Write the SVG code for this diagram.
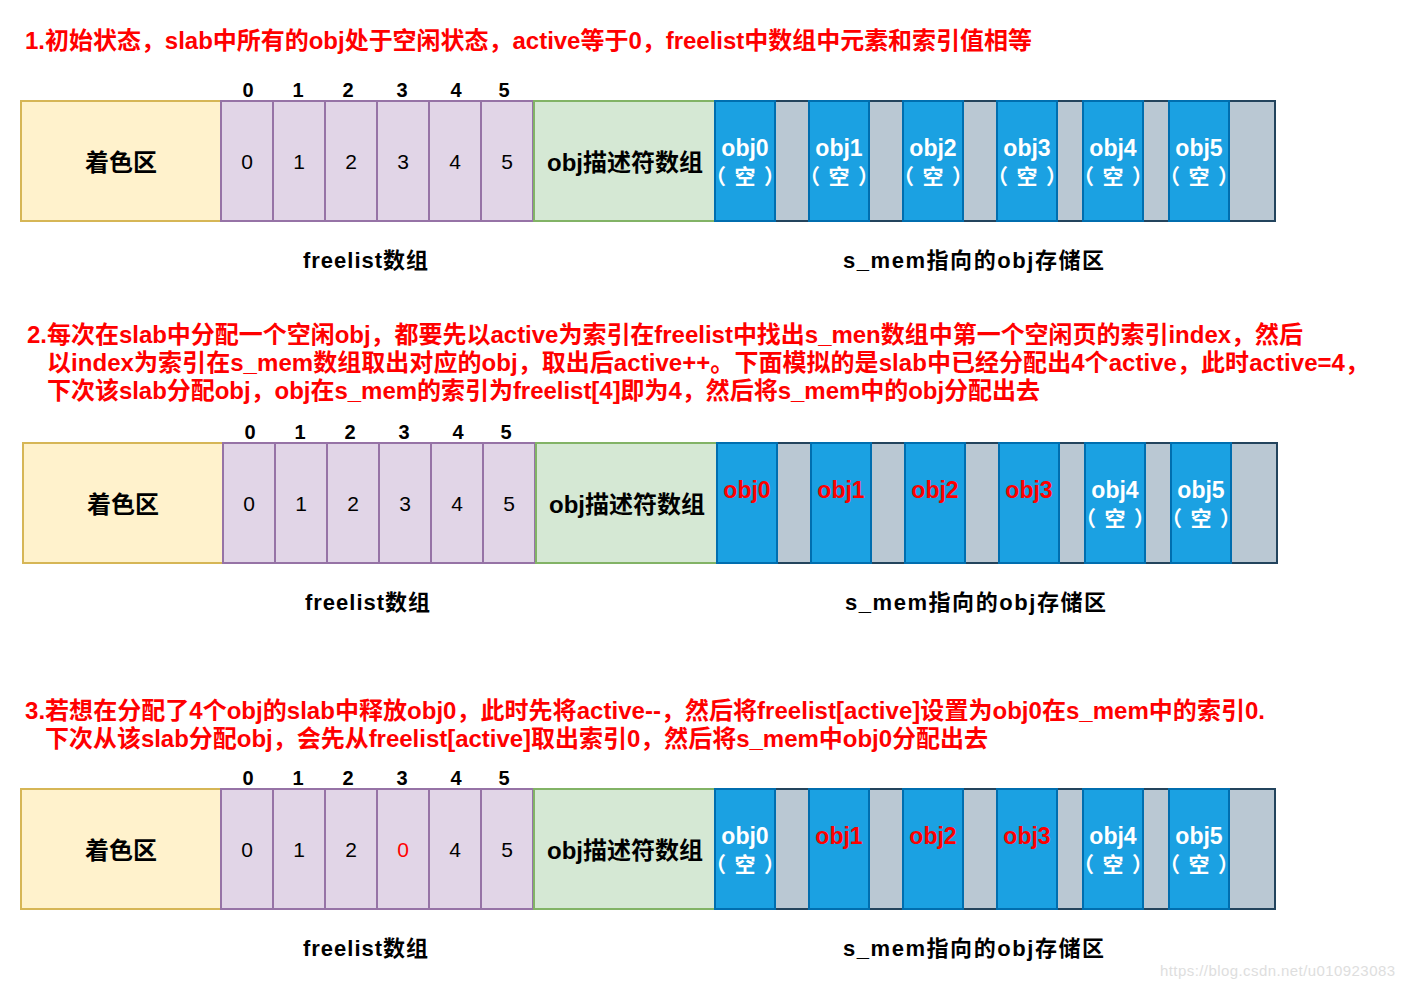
<svg xmlns="http://www.w3.org/2000/svg" width="1404" height="990" viewBox="0 0 1404 990">
<style>
text{font-family:'Liberation Sans','Noto Sans CJK SC',sans-serif}
.title{font-size:24px;font-weight:bold;fill:#ff0000}
.hdr{font-size:20px;font-weight:bold;fill:#000;text-anchor:middle}
.yel{fill:#fff2cc;stroke:#d6b656;stroke-width:2}
.pur{fill:#e1d5e7;stroke:#9673a6;stroke-width:2}
.grn{fill:#d5e8d4;stroke:#82b366;stroke-width:2}
.blu{fill:#1ba1e2;stroke:#006eaf;stroke-width:2}
.gry{fill:#bac8d3;stroke:#23445d;stroke-width:2}
.big{font-size:24px;font-weight:bold;fill:#000;text-anchor:middle}
.num{font-size:21px;fill:#000;text-anchor:middle}
.numr{font-size:21px;fill:#ff0000;text-anchor:middle}
.ob{font-size:23px;font-weight:bold;fill:#fff;text-anchor:middle}
.obr{font-size:23px;font-weight:bold;fill:#ff0000;text-anchor:middle}
.kong{font-size:21px;font-weight:bold;fill:#fff;text-anchor:middle}
.lbl{font-size:22px;font-weight:bold;fill:#000;text-anchor:middle}
</style>

<g id="titles">
<text class="title" x="25" y="49" textLength="1007">1.初始状态，slab中所有的obj处于空闲状态，active等于0，freelist中数组中元素和索引值相等</text>
<text class="title" x="27" y="343" textLength="1276">2.每次在slab中分配一个空闲obj，都要先以active为索引在freelist中找出s_men数组中第一个空闲页的索引index，然后</text>
<text class="title" x="47" y="371" textLength="1322">以index为索引在s_mem数组取出对应的obj，取出后active++。下面模拟的是slab中已经分配出4个active，此时active=4，</text>
<text class="title" x="47" y="399" textLength="993">下次该slab分配obj，obj在s_mem的索引为freelist[4]即为4，然后将s_mem中的obj分配出去</text>
<text class="title" x="25" y="719" textLength="1240">3.若想在分配了4个obj的slab中释放obj0，此时先将active--，然后将freelist[active]设置为obj0在s_mem中的索引0.</text>
<text class="title" x="45" y="747" textLength="943">下次从该slab分配obj，会先从freelist[active]取出索引0，然后将s_mem中obj0分配出去</text>
</g>

<!-- Panel 1 -->
<g id="panel1">
<g id="p1-index"><text class="hdr" x="248" y="97">0</text><text class="hdr" x="298" y="97">1</text><text class="hdr" x="348" y="97">2</text><text class="hdr" x="402" y="97">3</text><text class="hdr" x="456" y="97">4</text><text class="hdr" x="504" y="97">5</text></g>
<g id="p1-color"><rect class="yel" x="21" y="101" width="200" height="120"/><text class="big" x="121" y="171">着色区</text></g>
<g id="p1-freelist">
<rect class="pur" x="221" y="101" width="52" height="120"/><text class="num" x="247" y="169">0</text>
<rect class="pur" x="273" y="101" width="52" height="120"/><text class="num" x="299" y="169">1</text>
<rect class="pur" x="325" y="101" width="52" height="120"/><text class="num" x="351" y="169">2</text>
<rect class="pur" x="377" y="101" width="52" height="120"/><text class="num" x="403" y="169">3</text>
<rect class="pur" x="429" y="101" width="52" height="120"/><text class="num" x="455" y="169">4</text>
<rect class="pur" x="481" y="101" width="52" height="120"/><text class="num" x="507" y="169">5</text>
</g>
<g id="p1-desc"><rect class="grn" x="534" y="101" width="181" height="120"/><text class="big" x="625" y="171">obj描述符数组</text></g>
<g id="p1-mem">
<rect class="gry" x="715" y="101" width="560" height="120"/>
<rect class="blu" x="715" y="101" width="60" height="120"/><text class="ob" x="745" y="156">obj0</text><text class="kong" x="745" y="184" textLength="80">（空）</text>
<rect class="blu" x="809" y="101" width="60" height="120"/><text class="ob" x="839" y="156">obj1</text><text class="kong" x="839" y="184" textLength="80">（空）</text>
<rect class="blu" x="903" y="101" width="60" height="120"/><text class="ob" x="933" y="156">obj2</text><text class="kong" x="933" y="184" textLength="80">（空）</text>
<rect class="blu" x="997" y="101" width="60" height="120"/><text class="ob" x="1027" y="156">obj3</text><text class="kong" x="1027" y="184" textLength="80">（空）</text>
<rect class="blu" x="1083" y="101" width="60" height="120"/><text class="ob" x="1113" y="156">obj4</text><text class="kong" x="1113" y="184" textLength="80">（空）</text>
<rect class="blu" x="1169" y="101" width="60" height="120"/><text class="ob" x="1199" y="156">obj5</text><text class="kong" x="1199" y="184" textLength="80">（空）</text>
</g>
<g id="p1-labels"><text class="lbl" x="365.5" y="268" textLength="125">freelist数组</text><text class="lbl" x="973.5" y="268" textLength="261">s_mem指向的obj存储区</text></g>
</g>

<!-- Panel 2 -->
<g id="panel2" transform="translate(2,342)">
<g id="p2-index"><text class="hdr" x="248" y="97">0</text><text class="hdr" x="298" y="97">1</text><text class="hdr" x="348" y="97">2</text><text class="hdr" x="402" y="97">3</text><text class="hdr" x="456" y="97">4</text><text class="hdr" x="504" y="97">5</text></g>
<g id="p2-color"><rect class="yel" x="21" y="101" width="200" height="120"/><text class="big" x="121" y="171">着色区</text></g>
<g id="p2-freelist">
<rect class="pur" x="221" y="101" width="52" height="120"/><text class="num" x="247" y="169">0</text>
<rect class="pur" x="273" y="101" width="52" height="120"/><text class="num" x="299" y="169">1</text>
<rect class="pur" x="325" y="101" width="52" height="120"/><text class="num" x="351" y="169">2</text>
<rect class="pur" x="377" y="101" width="52" height="120"/><text class="num" x="403" y="169">3</text>
<rect class="pur" x="429" y="101" width="52" height="120"/><text class="num" x="455" y="169">4</text>
<rect class="pur" x="481" y="101" width="52" height="120"/><text class="num" x="507" y="169">5</text>
</g>
<g id="p2-desc"><rect class="grn" x="534" y="101" width="181" height="120"/><text class="big" x="625" y="171">obj描述符数组</text></g>
<g id="p2-mem">
<rect class="gry" x="715" y="101" width="560" height="120"/>
<rect class="blu" x="715" y="101" width="60" height="120"/><text class="obr" x="745" y="156">obj0</text>
<rect class="blu" x="809" y="101" width="60" height="120"/><text class="obr" x="839" y="156">obj1</text>
<rect class="blu" x="903" y="101" width="60" height="120"/><text class="obr" x="933" y="156">obj2</text>
<rect class="blu" x="997" y="101" width="60" height="120"/><text class="obr" x="1027" y="156">obj3</text>
<rect class="blu" x="1083" y="101" width="60" height="120"/><text class="ob" x="1113" y="156">obj4</text><text class="kong" x="1113" y="184" textLength="80">（空）</text>
<rect class="blu" x="1169" y="101" width="60" height="120"/><text class="ob" x="1199" y="156">obj5</text><text class="kong" x="1199" y="184" textLength="80">（空）</text>
</g>
<g id="p2-labels"><text class="lbl" x="365.5" y="268" textLength="125">freelist数组</text><text class="lbl" x="973.5" y="268" textLength="261">s_mem指向的obj存储区</text></g>
</g>

<!-- Panel 3 -->
<g id="panel3" transform="translate(0,688)">
<g id="p3-index"><text class="hdr" x="248" y="97">0</text><text class="hdr" x="298" y="97">1</text><text class="hdr" x="348" y="97">2</text><text class="hdr" x="402" y="97">3</text><text class="hdr" x="456" y="97">4</text><text class="hdr" x="504" y="97">5</text></g>
<g id="p3-color"><rect class="yel" x="21" y="101" width="200" height="120"/><text class="big" x="121" y="171">着色区</text></g>
<g id="p3-freelist">
<rect class="pur" x="221" y="101" width="52" height="120"/><text class="num" x="247" y="169">0</text>
<rect class="pur" x="273" y="101" width="52" height="120"/><text class="num" x="299" y="169">1</text>
<rect class="pur" x="325" y="101" width="52" height="120"/><text class="num" x="351" y="169">2</text>
<rect class="pur" x="377" y="101" width="52" height="120"/><text class="numr" x="403" y="169">0</text>
<rect class="pur" x="429" y="101" width="52" height="120"/><text class="num" x="455" y="169">4</text>
<rect class="pur" x="481" y="101" width="52" height="120"/><text class="num" x="507" y="169">5</text>
</g>
<g id="p3-desc"><rect class="grn" x="534" y="101" width="181" height="120"/><text class="big" x="625" y="171">obj描述符数组</text></g>
<g id="p3-mem">
<rect class="gry" x="715" y="101" width="560" height="120"/>
<rect class="blu" x="715" y="101" width="60" height="120"/><text class="ob" x="745" y="156">obj0</text><text class="kong" x="745" y="184" textLength="80">（空）</text>
<rect class="blu" x="809" y="101" width="60" height="120"/><text class="obr" x="839" y="156">obj1</text>
<rect class="blu" x="903" y="101" width="60" height="120"/><text class="obr" x="933" y="156">obj2</text>
<rect class="blu" x="997" y="101" width="60" height="120"/><text class="obr" x="1027" y="156">obj3</text>
<rect class="blu" x="1083" y="101" width="60" height="120"/><text class="ob" x="1113" y="156">obj4</text><text class="kong" x="1113" y="184" textLength="80">（空）</text>
<rect class="blu" x="1169" y="101" width="60" height="120"/><text class="ob" x="1199" y="156">obj5</text><text class="kong" x="1199" y="184" textLength="80">（空）</text>
</g>
<g id="p3-labels"><text class="lbl" x="365.5" y="268" textLength="125">freelist数组</text><text class="lbl" x="973.5" y="268" textLength="261">s_mem指向的obj存储区</text></g>
</g>

<g id="connectors"/>

<text x="1160" y="976" font-size="15" fill="#dedede" textLength="235">https://blog.csdn.net/u010923083</text>
</svg>
